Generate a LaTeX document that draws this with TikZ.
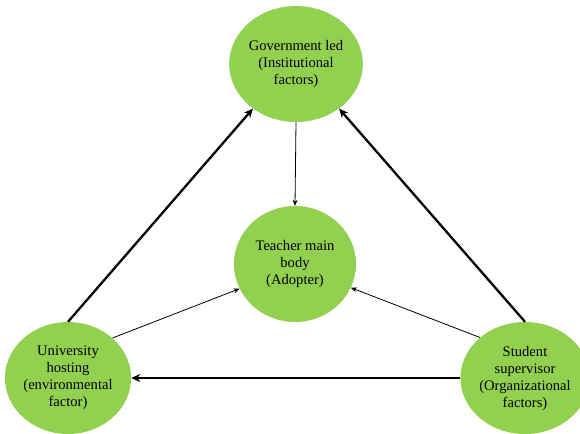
\documentclass[tikz,border=0pt]{standalone}
\usepackage{fontspec}
\setmainfont{Liberation Serif}
\usetikzlibrary{arrows.meta,shapes.geometric}
\definecolor{circgreen}{HTML}{92D050}
\begin{document}
\begin{tikzpicture}[x=1pt,y=-1pt,
  factor/.style={ellipse, fill=circgreen, minimum width=122pt, minimum height=116pt, inner sep=0pt, align=center, font=\fontsize{14.6}{17}\selectfont},
  thickarrow/.style={line width=2.3pt, -{Stealth[length=9pt,width=8pt]}},
  thinarrow/.style={line width=0.8pt, -{Stealth[length=6pt,width=5pt]}}]
\useasboundingbox (0,0) rectangle (580,433);
\clip (0,0) rectangle (580,433);
\node[factor] (T) at (296,64) {Government led\\(Institutional\\factors)};
\node[factor] (C) at (295,264) {Teacher main\\body\\(Adopter)};
\node[factor, minimum height=112pt] (L) at (68,378) {University\\hosting\\(environmental\\factor)};
\node[factor, minimum width=120pt, minimum height=112pt] (R) at (525,378) {Student\\supervisor\\(Organizational\\factors)};
\draw[thinarrow] (T.south) -- (C.north);
\draw[thickarrow] (L.north) -- (T.226);
\draw[thickarrow] (R.north) -- (T.-46);
\draw[thickarrow] (R.west) -- (L.east);
\draw[thinarrow] (L.42) -- (C.204);
\draw[thinarrow] (R.138) -- (C.337);
\end{tikzpicture}
\end{document}
